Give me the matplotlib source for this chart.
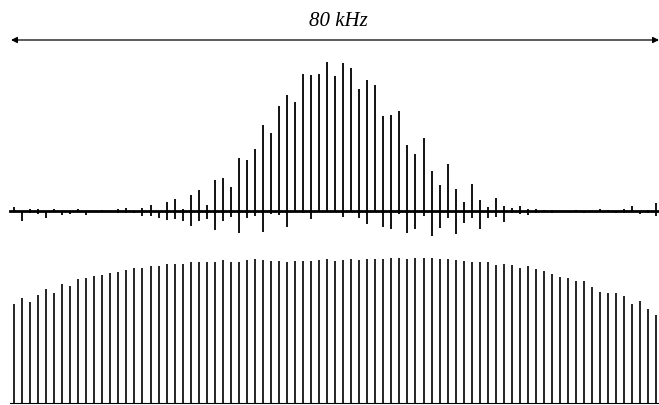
import numpy as np
import matplotlib.pyplot as plt
from matplotlib.transforms import blended_transform_factory

# line positions, kHz (81 lines, 1 kHz apart)
freqs = np.arange(-40, 41)

# upper spectrum: positive and negative excursion of each line
upper_pos = [4, 0, 2, 2, 0, 2, 0, 0, 2, 0, 0, 1, 0, 2, 3, 0, 3, 6, 0, 9,
             12, 2, 16, 21, 6, 31, 33, 24, 53, 51, 62, 86, 78, 105, 116, 109, 137, 136, 137, 149,
             135, 148, 143, 122, 131, 126, 95, 96, 100, 66, 57, 73, 40, 26, 47, 22, 9, 27, 11, 4,
             13, 5, 3, 5, 2, 2, 1, 1, 0, 0, 1, 0, 0, 2, 1, 0, 2, 5, 0, 1, 8]
upper_neg = [0, -10, -2, -3, -7, 0, -4, -3, 0, -4, 0, 0, 0, -2, -2, -2, -5, -5, -7, -9,
             -8, -10, -15, -10, -8, -19, -10, -6, -22, -7, -5, -21, -3, -4, -16, 0, -2, -8, 0, 0,
             0, -6, 0, -7, -13, 0, -16, -18, -3, -22, -18, -5, -25, -17, -7, -23, -12, -7, -18, -7,
             -6, -11, -2, -3, -4, -2, 0, -2, 0, 0, 0, -2, 0, 0, 0, -2, -2, 0, -3, -2, -5]

# lower spectrum: peak heights
lower_h = [99, 105, 100.7, 108, 114, 110, 119.3, 117, 123.7, 125,
           126.7, 128.3, 130, 131.3, 133.3, 135, 134.7, 137.3, 136.7, 138.7,
           139.3, 139, 141.3, 140.7, 140.7, 141, 142.7, 141, 140.7, 142.7,
           143.7, 143, 142, 141.7, 141, 141.7, 142, 142, 143, 143.7,
           142.3, 143.3, 144, 143, 144, 144.3, 144.3, 145, 144.7, 144.3,
           144.7, 145, 144.7, 143.7, 144, 143.3, 142.3, 140.7, 141, 141,
           137.7, 139, 138, 135, 136.7, 133.7, 132, 128.7, 126, 124.7,
           122.3, 121.7, 115.7, 111, 110, 110, 106.7, 98.7, 101.7, 94, 88]

W, H = 659, 406
fig = plt.figure(figsize=(W / 100, H / 100), dpi=100)

px0 = 335.2   # pixel of 0 kHz
dpx = 8.03    # pixels per kHz
xlim = (-px0 / dpx, (W - px0) / dpx)

# upper panel, pixels 50..250 from top, baseline at 211.7
ax1 = fig.add_axes([0, 1 - 250 / H, 1, 200 / H])
ax1.set_xlim(*xlim)
ax1.set_ylim(-38.3, 161.7)
ax1.axis('off')
ax1.vlines(freqs, upper_neg, upper_pos, color='black', lw=1.3)
ax1.plot([(10 - px0) / dpx, xlim[1]], [0, 0], color='black', lw=2.0)

# lower panel, pixels 250..406 from top, baseline at 404
ax2 = fig.add_axes([0, 0, 1, 156 / H])
ax2.set_xlim(*xlim)
ax2.set_ylim(-2, 154)
ax2.axis('off')
ax2.vlines(freqs, 0, lower_h, color='black', lw=1.2)
ax2.plot([(10 - px0) / dpx, xlim[1]], [0, 0], color='black', lw=0.8)

# 80 kHz arrow
ax1.annotate('', xy=((11 - px0) / dpx, 1 - 41 / H), xytext=(xlim[1], 1 - 41 / H),
             xycoords=('data', 'figure fraction'), textcoords=('data', 'figure fraction'),
             arrowprops=dict(arrowstyle='<|-|>', color='black', lw=0.9,
                             mutation_scale=9, shrinkA=0, shrinkB=0),
             annotation_clip=False)
trans = blended_transform_factory(ax1.transData, fig.transFigure)
ax1.text((338 - px0) / dpx, 1 - 22 / H, '80 kHz', transform=trans,
         ha='center', va='center', fontsize=15, style='italic', family='Liberation Serif')

fig.savefig('out.png', dpi=100)
